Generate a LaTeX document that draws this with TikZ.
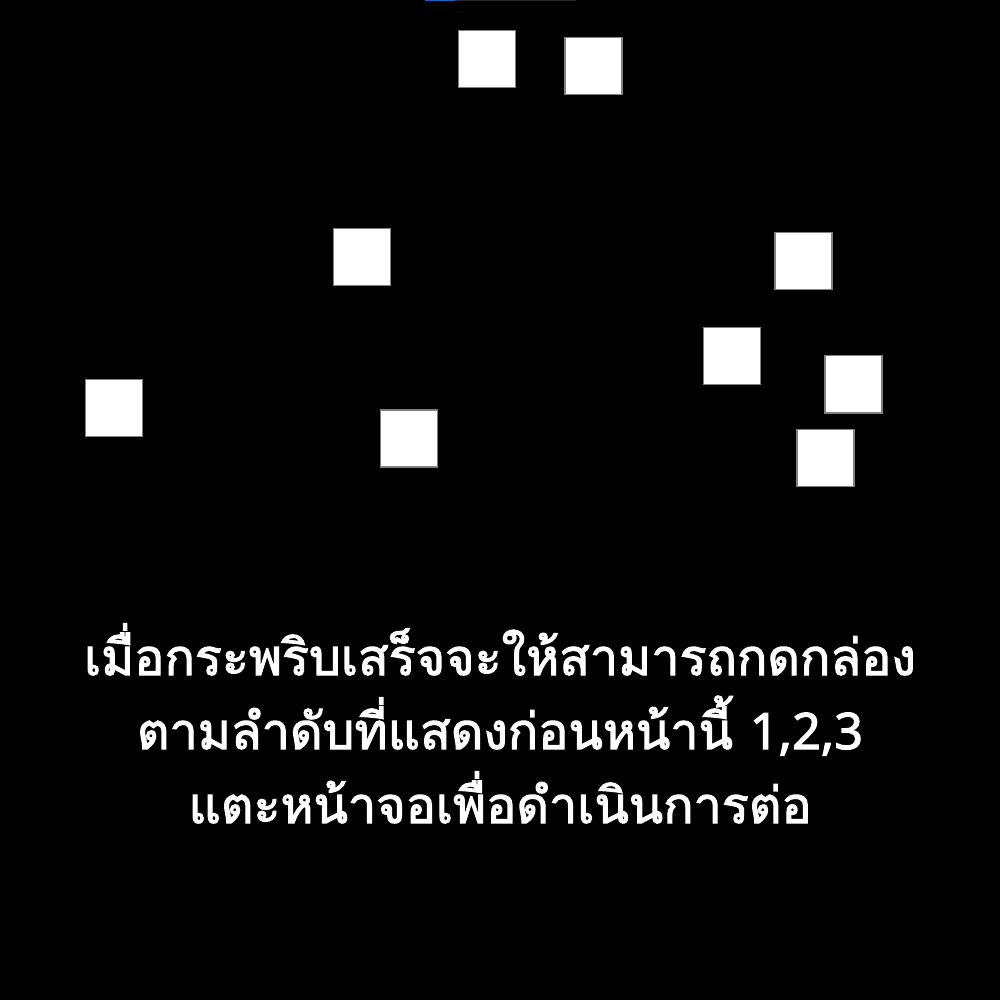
\documentclass[tikz,border=0pt]{standalone}
\usepackage{fontspec}
\newfontfamily\thaifont[Script=Thai, FakeBold=2.2]{Loma}
\newfontfamily\latinfont[FakeBold=2.2]{Noto Sans}
\definecolor{barblue}{HTML}{1565C0}
\definecolor{bargray}{HTML}{2A2A2A}
\definecolor{edgegray}{HTML}{808080}
\tikzset{
  sq/.style={draw=edgegray, line width=0.4pt, fill=white, minimum size=0.57cm, inner sep=0pt, outer sep=0pt},
  msg/.style={text=white, font=\thaifont\fontsize{14.3}{21}\selectfont, inner sep=0pt}
}
\begin{document}
\begin{tikzpicture}
\fill[black] (0,0) rectangle (10,-10);
\useasboundingbox (0,0) rectangle (10,-10);
\fill[bargray] (4.25,0) rectangle (5.76,-0.012);
\fill[barblue] (4.25,0) rectangle (4.55,-0.012);
\node[sq] (s1) at (4.872,-0.590) {};
\node[sq] (s2) at (5.933,-0.658) {};
\node[sq] (s3) at (3.617,-2.568) {};
\node[sq] (s4) at (8.035,-2.612) {};
\node[sq] (s5) at (7.322,-3.560) {};
\node[sq] (s6) at (8.535,-3.843) {};
\node[sq] (s7) at (1.140,-4.080) {};
\node[sq] (s8) at (4.090,-4.387) {};
\node[sq] (s9) at (8.253,-4.580) {};
\node[msg, anchor=base] (l1) at (5.0,-6.75) {เมื่อกระพริบเสร็จจะให้สามารถกดกล่อง};
\node[msg, anchor=base] (l2) at (5.0,-7.49) {ตามลำดับที่แสดงก่อนหน้านี้ {\latinfont 1,2,3}};
\node[msg, anchor=base] (l3) at (5.0,-8.23) {แตะหน้าจอเพื่อดำเนินการต่อ};
\end{tikzpicture}
\end{document}
